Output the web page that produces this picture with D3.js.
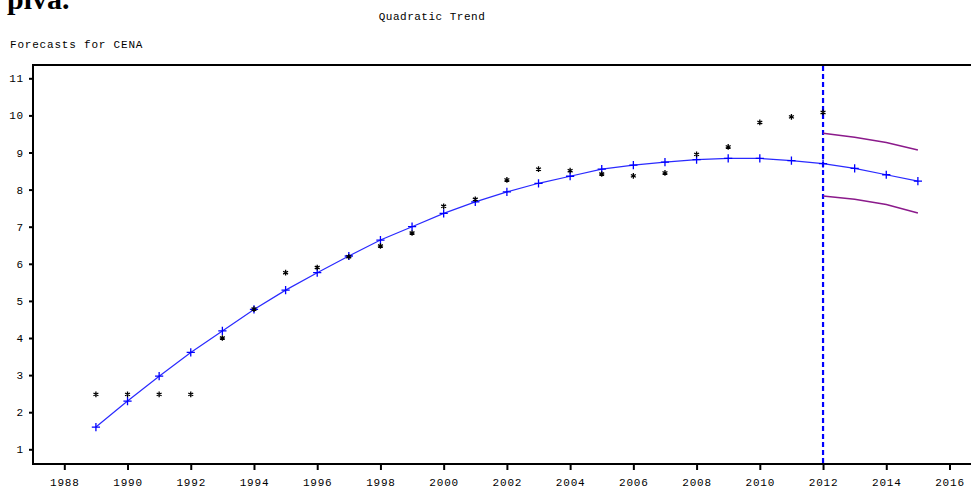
<!DOCTYPE html>
<html>
<head>
<meta charset="utf-8">
<script src="https://cdn.jsdelivr.net/npm/d3@7"></script>
<style>
  html, body { margin: 0; padding: 0; background: #fff; }
  svg { display: block; }
  .mono { font-family: "Liberation Mono", "DejaVu Sans Mono", monospace; font-size: 11px; letter-spacing: 0.8px; fill: #000; }
</style>
</head>
<body>
<script>
// ---- data ----
const actualYears = [1989,1990,1991,1992,1993,1994,1995,1996,1997,1998,1999,2000,2001,2002,2003,2004,2005,2006,2007,2008,2009,2010,2011,2012];
const actualValues = [2.48,2.48,2.48,2.48,4.00,4.78,5.76,5.90,6.19,6.48,6.83,7.55,7.74,8.26,8.55,8.51,8.42,8.37,8.45,8.95,9.15,9.81,9.96,10.08];
const trendYears = [1989,1990,1991,1992,1993,1994,1995,1996,1997,1998,1999,2000,2001,2002,2003,2004,2005,2006,2007,2008,2009,2010,2011,2012,2013,2014,2015];
const trendValues = [1.60,2.30,2.97,3.61,4.19,4.77,5.29,5.76,6.21,6.64,7.00,7.36,7.67,7.94,8.17,8.36,8.55,8.66,8.74,8.81,8.84,8.84,8.78,8.70,8.57,8.40,8.23];
const bandYears = [2012,2013,2014,2015];
const upperValues = [9.52,9.41,9.27,9.07];
const lowerValues = [7.83,7.74,7.60,7.37];
const forecastStart = 2012;
const xTicks = [1988,1990,1992,1994,1996,1998,2000,2002,2004,2006,2008,2010,2012,2014,2016];
const yTicks = [1,2,3,4,5,6,7,8,9,10,11];
const titleText = "Quadratic Trend";
const subtitleText = "Forecasts for CENA";
const headingText = "plva.";

// ---- layout ----
const W = 971, H = 490;
const frame = { left: 33, right: 971, top: 65, bottom: 464 };

const svg = d3.select("body").append("svg").attr("width", W).attr("height", H);

const x = d3.scaleLinear().domain([1988, 2016]).range([64.3, 949.5]);
const y = d3.scaleLinear().domain([1, 11]).range([449.3, 78.3]);

// heading (cropped at top, as in the source page)
svg.append("text").attr("x", 7).attr("y", 9)
  .style("font-family", "'Liberation Serif', 'DejaVu Serif', serif")
  .style("font-weight", "bold").style("font-size", "30px")
  .text(headingText);

svg.append("text").attr("class", "mono").attr("x", 432).attr("y", 20)
  .attr("text-anchor", "middle").style("letter-spacing", "0.5px").text(titleText);
svg.append("text").attr("class", "mono").attr("x", 10).attr("y", 48).text(subtitleText);

// frame lines
svg.append("line").attr("x1", frame.left).attr("x2", frame.right).attr("y1", frame.top).attr("y2", frame.top)
  .attr("stroke", "#000").attr("stroke-width", 2);

// axes
const yAxis = d3.axisLeft(y).tickValues(yTicks).tickSize(4).tickPadding(5).tickFormat(d3.format("d"));
const gy = svg.append("g").attr("transform", `translate(${frame.left},0)`).call(yAxis);
gy.select(".domain").remove();
gy.append("line").attr("x1", 0).attr("x2", 0).attr("y1", frame.top - 1).attr("y2", frame.bottom + 1)
  .attr("stroke", "#000").attr("stroke-width", 2);
gy.selectAll(".tick line").attr("stroke-width", 2);
gy.selectAll(".tick text").attr("class", "mono").attr("fill", "#000");

const xAxis = d3.axisBottom(x).tickValues(xTicks).tickSize(6).tickPadding(8).tickFormat(d3.format("d"));
const gx = svg.append("g").attr("transform", `translate(0,${frame.bottom})`).call(xAxis);
gx.select(".domain").remove();
gx.append("line").attr("x1", frame.left - 1).attr("x2", frame.right).attr("y1", 0).attr("y2", 0)
  .attr("stroke", "#000").attr("stroke-width", 2);
gx.selectAll(".tick line").attr("stroke-width", 2);
gx.selectAll(".tick text").attr("class", "mono").attr("fill", "#000");
svg.selectAll(".tick text").style("font-family", "'Liberation Mono', monospace").style("font-size", "11px").style("letter-spacing", "0.8px");

// forecast start reference line
svg.append("line")
  .attr("x1", x(forecastStart)).attr("x2", x(forecastStart))
  .attr("y1", frame.top + 1).attr("y2", frame.bottom)
  .attr("stroke", "#0000ff").attr("stroke-width", 2.2).attr("stroke-dasharray", "5,3");

// confidence band lines
const bandLine = d3.line().x(d => x(d[0])).y(d => y(d[1]));
svg.append("path").datum(bandYears.map((yr, i) => [yr, upperValues[i]]))
  .attr("d", bandLine).attr("fill", "none").attr("stroke", "#8b1a8b").attr("stroke-width", 1.5);
svg.append("path").datum(bandYears.map((yr, i) => [yr, lowerValues[i]]))
  .attr("d", bandLine).attr("fill", "none").attr("stroke", "#8b1a8b").attr("stroke-width", 1.5);

// trend line
const trendData = trendYears.map((yr, i) => [yr, trendValues[i]]);
svg.append("path").datum(trendData)
  .attr("d", bandLine).attr("fill", "none").attr("stroke", "#2a2aff").attr("stroke-width", 1.2);

const plus = d3.symbol().type(d3.symbolPlus).size(24);
svg.append("g").selectAll("path").data(trendData).join("path")
  .attr("transform", d => `translate(${x(d[0])},${y(d[1])})`)
  .attr("d", plus).attr("fill", "none").attr("stroke", "#0000ff").attr("stroke-width", 1.3);

// actual values (asterisks)
const star = d3.symbol().type(d3.symbolAsterisk).size(22);
svg.append("g").selectAll("path").data(actualYears.map((yr, i) => [yr, actualValues[i]])).join("path")
  .attr("transform", d => `translate(${x(d[0])},${y(d[1])})`)
  .attr("d", star).attr("fill", "none").attr("stroke", "#000").attr("stroke-width", 1.3);
</script>
</body>
</html>
